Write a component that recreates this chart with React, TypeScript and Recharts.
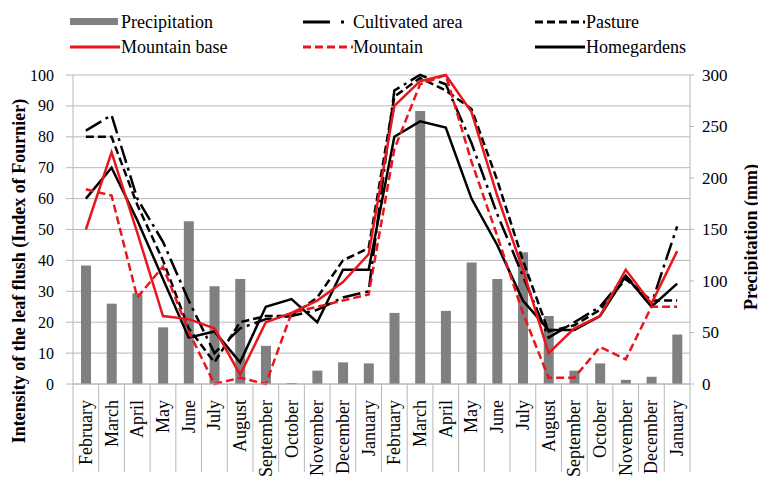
import React from "react";
import { ComposedChart, Bar, Line, XAxis, YAxis, CartesianGrid } from "recharts";

const months = ["February","March","April","May","June","July","August","September","October","November","December","January","February","March","April","May","June","July","August","September","October","November","December","January"];
const precipitation = [115, 78, 88, 55, 158, 95, 102, 37, 1, 13, 21, 20, 69, 265, 71, 118, 102, 128, 66, 13, 20, 4, 7, 48];
const cultivated = [82, 87, 60, 46, 27, 10, 18, 21, 22, 24, 28, 30, 95, 100, 97, 78, 55, 35, 15, 20, 25, 35, 26, 51];
const pasture = [80, 80, 58, 40, 18, 7, 20, 22, 22, 28, 40, 44, 93, 99, 95, 89, 66, 40, 17, 19, 24, 34, 27, 27];
const mountainBase = [50, 75, 49, 22, 21, 18, 3, 20, 23, 27, 33, 42, 90, 98, 100, 88, 61, 37, 10, 18, 22, 37, 26, 43];
const mountain = [63, 61, 28, 38, 17, 0, 2, 0, 23, 25, 27, 29, 76, 97, 100, 72, 48, 23, 2, 2, 12, 8, 25, 25];
const homegardens = [60, 70, 53, 34, 15, 17, 7, 25, 27.5, 20, 37, 37, 80, 85, 83, 60, 45, 27, 17.5, 17.5, 22, 35, 25, 32.5];
const leftTicks = [0, 10, 20, 30, 40, 50, 60, 70, 80, 90, 100];
const rightTicks = [0, 50, 100, 150, 200, 250, 300];

const data = months.map((m, i) => ({
  month: m,
  precipitation: precipitation[i],
  cultivated: cultivated[i],
  pasture: pasture[i],
  mountainBase: mountainBase[i],
  mountain: mountain[i],
  homegardens: homegardens[i],
}));

const FONT = "'Liberation Serif', 'Times New Roman', serif";
const RED = "#e8161d";
const GRID = "#b8b8b8";

const MonthTick = (props: any) => {
  const { x, y, payload, index, visibleTicksCount } = props;
  const half = payload && payload.offset ? payload.offset : 12.85;
  const ty = y + 16;
  const last = index === (visibleTicksCount ? visibleTicksCount - 1 : 23);
  return (
    <g>
      <line x1={x - half} y1={y} x2={x - half} y2={y + 88} stroke={GRID} strokeWidth={1} />
      {last && <line x1={x + half} y1={y} x2={x + half} y2={y + 88} stroke={GRID} strokeWidth={1} />}
      <text
        x={x}
        y={ty}
        transform={`rotate(-90, ${x}, ${ty})`}
        textAnchor="end"
        dominantBaseline="central"
        fontFamily={FONT}
        fontSize={18}
        style={{ fontFamily: FONT, fontSize: 18 }}
        fill="#000"
      >
        {payload.value}
      </text>
    </g>
  );
};

const LeftTick = (props: any) => {
  const { x, y, payload } = props;
  return (
    <g>
      <text x={x} y={y} textAnchor="end" dominantBaseline="central" fontFamily={FONT} fontSize={16} style={{ fontFamily: FONT, fontSize: 16 }} fill="#000">
        {payload.value}
      </text>
    </g>
  );
};

const RightTick = (props: any) => {
  const { x, y, payload } = props;
  return (
    <g>
      <text x={x} y={y} textAnchor="start" dominantBaseline="central" fontFamily={FONT} fontSize={17} style={{ fontFamily: FONT, fontSize: 17 }} fill="#000">
        {payload.value}
      </text>
    </g>
  );
};

const LeftTitle = () => (
  <text
    x={19}
    y={271}
    transform="rotate(-90, 19, 271)"
    textAnchor="middle"
    dominantBaseline="central"
    fontFamily={FONT}
    style={{ fontFamily: FONT, fontWeight: "bold", fontSize: 18 }}
    fill="#000"
  >
    Intensity of the leaf flush (Index of Fournier)
  </text>
);

const RightTitle = () => (
  <text
    x={751}
    y={237}
    transform="rotate(-90, 751, 237)"
    textAnchor="middle"
    dominantBaseline="central"
    fontFamily={FONT}
    style={{ fontFamily: FONT, fontWeight: "bold", fontSize: 18 }}
    fill="#000"
  >
    Precipitation (mm)
  </text>
);

const legendText: React.CSSProperties = {
  position: "absolute",
  fontFamily: FONT,
  fontSize: 18,
  lineHeight: "20px",
  color: "#000",
  whiteSpace: "nowrap",
};

const LegendIcon = ({ left, top, children }: { left: number; top: number; children: React.ReactNode }) => (
  <svg style={{ position: "absolute", left, top }} width={60} height={12}>
    {children}
  </svg>
);

const ChartLegend = () => (
  <div style={{ position: "absolute", left: 0, top: 0, width: 766, height: 70 }}>
    <LegendIcon left={70} top={16}>
      <rect x={0} y={2} width={48} height={7} fill="#808080" />
    </LegendIcon>
    <div style={{ ...legendText, left: 121, top: 12 }}>Precipitation</div>
    <LegendIcon left={303} top={16}>
      <line x1={0} y1={6} x2={27} y2={6} stroke="#000" strokeWidth={3} />
      <rect x={38} y={4.5} width={3} height={3} fill="#000" />
    </LegendIcon>
    <div style={{ ...legendText, left: 353, top: 12 }}>Cultivated area</div>
    <LegendIcon left={535} top={16}>
      <line x1={0} y1={6} x2={50} y2={6} stroke="#000" strokeWidth={3} strokeDasharray="8 4" />
    </LegendIcon>
    <div style={{ ...legendText, left: 586, top: 12 }}>Pasture</div>

    <LegendIcon left={70} top={41}>
      <line x1={0} y1={6} x2={50} y2={6} stroke={RED} strokeWidth={3} />
    </LegendIcon>
    <div style={{ ...legendText, left: 121, top: 37 }}>Mountain base</div>
    <LegendIcon left={303} top={41}>
      <line x1={0} y1={6} x2={50} y2={6} stroke={RED} strokeWidth={3} strokeDasharray="8 4" />
    </LegendIcon>
    <div style={{ ...legendText, left: 353, top: 37 }}>Mountain</div>
    <LegendIcon left={535} top={41}>
      <line x1={0} y1={6} x2={50} y2={6} stroke="#000" strokeWidth={3} />
    </LegendIcon>
    <div style={{ ...legendText, left: 586, top: 37 }}>Homegardens</div>
  </div>
);

export default function App() {
  return (
    <div style={{ position: "relative", width: 766, height: 478, margin: "-8px 0 0 -8px", background: "#fff", fontFamily: FONT }}>
      <ComposedChart width={766} height={478} data={data} margin={{ top: 75, right: 0, bottom: 0, left: 0 }} style={{ fontFamily: FONT }}>
        <CartesianGrid yAxisId="left" vertical={false} stroke={GRID} strokeWidth={1} />
        <XAxis
          dataKey="month"
          interval={0}
          height={94}
          tickSize={0}
          tickMargin={0}
          tickLine={false}
          axisLine={{ stroke: GRID }}
          tick={<MonthTick />}
        />
        <YAxis
          yAxisId="left"
          domain={[0, 100]}
          ticks={leftTicks}
          interval={0}
          width={73}
          tickSize={7}
          tickMargin={12}
          axisLine={{ stroke: GRID }}
          tickLine={{ stroke: GRID }}
          tick={<LeftTick />}
          label={<LeftTitle />}
        />
        <YAxis
          yAxisId="right"
          orientation="right"
          domain={[0, 300]}
          ticks={rightTicks}
          interval={0}
          width={76}
          tickSize={4}
          tickMargin={8}
          axisLine={{ stroke: GRID }}
          tickLine={{ stroke: GRID }}
          tick={<RightTick />}
          label={<RightTitle />}
        />
        <Bar yAxisId="right" dataKey="precipitation" fill="#808080" barSize={10} isAnimationActive={false} />
        <Line yAxisId="left" type="linear" dataKey="cultivated" stroke="#000" strokeWidth={2.5} strokeDasharray="18 5 3 5" dot={false} isAnimationActive={false} />
        <Line yAxisId="left" type="linear" dataKey="pasture" stroke="#000" strokeWidth={2.5} strokeDasharray="8 4" dot={false} isAnimationActive={false} />
        <Line yAxisId="left" type="linear" dataKey="homegardens" stroke="#000" strokeWidth={2.5} dot={false} isAnimationActive={false} />
        <Line yAxisId="left" type="linear" dataKey="mountain" stroke={RED} strokeWidth={2.5} strokeDasharray="8 4" dot={false} isAnimationActive={false} />
        <Line yAxisId="left" type="linear" dataKey="mountainBase" stroke={RED} strokeWidth={2.5} dot={false} isAnimationActive={false} />
      </ComposedChart>
      <ChartLegend />
    </div>
  );
}
